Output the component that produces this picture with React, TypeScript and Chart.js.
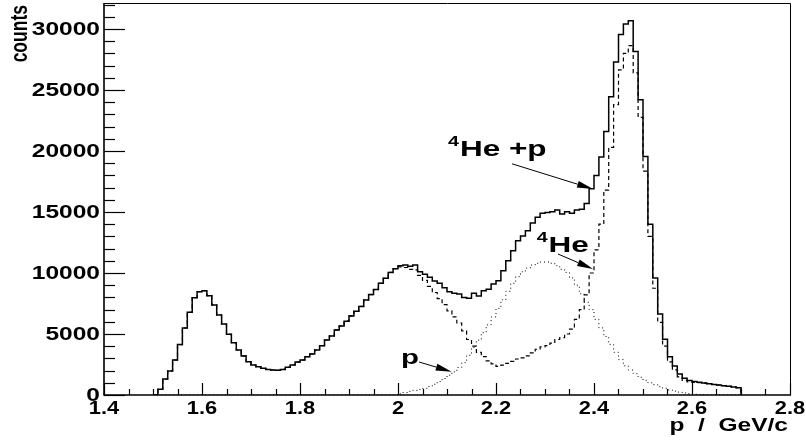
import React, { useEffect, useRef } from 'react';
import { Chart, registerables } from 'chart.js';

Chart.register(...registerables);

// ---- data -------------------------------------------------------------
const BIN_START = 1.5; // GeV/c, low edge of first bin
const BIN_WIDTH = 0.01; // GeV/c

// total counts (4He + p), bins 1.50 ... 2.69
const TOTAL = [
  0, 470, 1310, 1970, 2870, 4130, 5490, 6780, 7980, 8470,
  8550, 8140, 7380, 6560, 5820, 4970, 4290, 3690, 3200, 2730,
  2460, 2320, 2190, 2100, 2050, 2020, 2100, 2270, 2460, 2700,
  2870, 3140, 3360, 3690, 4040, 4510, 4840, 5330, 5650, 6050,
  6480, 6860, 7260, 7790, 8230, 8640, 9150, 9560, 10050, 10350,
  10600, 10650, 10550, 10650, 10100, 9900, 9650, 9350, 9150, 8800,
  8470, 8330, 8280, 8000, 7920, 8330, 8110, 8550, 8660, 9100,
  9370, 10190, 11010, 11830, 12650, 13030, 13470, 14100, 14560, 14890,
  14950, 15030, 15160, 14840, 15030, 14890, 15160, 15220, 15700, 16900,
  18000, 19500, 21600, 24450, 27300, 29550, 30400, 30680, 28150, 24200,
  19550, 14000, 9600, 6640, 4560, 3140, 2380, 1720, 1370, 1180,
  1100, 1040, 980, 930, 870, 820, 760, 710, 660, 600,
];

// 4He component (dashed)
const HE4 = [
  0, 470, 1310, 1970, 2870, 4130, 5490, 6780, 7980, 8470,
  8550, 8140, 7380, 6560, 5820, 4970, 4290, 3690, 3200, 2730,
  2460, 2320, 2190, 2100, 2050, 2020, 2100, 2270, 2460, 2700,
  2870, 3140, 3360, 3690, 4040, 4510, 4840, 5330, 5650, 6050,
  6480, 6860, 7260, 7790, 8230, 8640, 9150, 9560, 10050, 10350,
  10500, 10450, 10300, 10250, 9800, 9400, 8900, 8400, 7900, 7400,
  6900, 6400, 5900, 5250, 4550, 4000, 3500, 3150, 2800, 2550,
  2350, 2450, 2600, 2750, 2950, 3050, 3200, 3450, 3750, 3950,
  4050, 4250, 4550, 4700, 5000, 5400, 6200, 7000, 8200, 10000,
  11900, 14000, 16800, 20300, 23800, 26650, 28000, 28630, 26400, 22750,
  18350, 13000, 8750, 5960, 4010, 2720, 2060, 1480, 1200, 1070,
  1040, 1010, 970, 930, 870, 820, 760, 710, 660, 600,
];

// proton component (dotted)
const PROTON = [
  0, 0, 0, 0, 0, 0, 0, 0, 0, 0,
  0, 0, 0, 0, 0, 0, 0, 0, 0, 0,
  0, 0, 0, 0, 0, 0, 0, 0, 0, 0,
  0, 0, 0, 0, 0, 0, 0, 0, 0, 0,
  0, 0, 0, 0, 0, 0, 0, 0, 0, 0,
  100, 200, 300, 380, 460, 550, 700, 880, 1100, 1350,
  1620, 1900, 2250, 2650, 3250, 3900, 4500, 5100, 5750, 6400,
  7100, 7800, 8500, 9150, 9700, 10100, 10400, 10650, 10800, 10900,
  10900, 10800, 10600, 10300, 10050, 9600, 9000, 8300, 7600, 7000,
  6200, 5500, 4800, 4150, 3500, 2900, 2400, 2050, 1750, 1450,
  1200, 1000, 850, 680, 550, 420, 320, 240, 170, 110,
  60, 30, 10, 0, 0, 0, 0, 0, 0, 0,
];

const X_MIN = 1.4;
const X_MAX = 2.8;
const Y_MIN = 0;
const Y_MAX = 32130;
const X_MAJOR_TICKS = [1.4, 1.6, 1.8, 2.0, 2.2, 2.4, 2.6, 2.8];
const X_TICK_LABELS = ['1.4', '1.6', '1.8', '2', '2.2', '2.4', '2.6', '2.8'];
const X_MINOR_STEP = 0.05;
const Y_MAJOR_TICKS = [0, 5000, 10000, 15000, 20000, 25000, 30000];
const Y_TICK_LABELS = ['0', '5000', '10000', '15000', '20000', '25000', '30000'];
const Y_MINOR_STEP = 1000;
const X_TITLE = 'p  /  GeV/c';
const Y_TITLE = 'counts';

// annotations (label anchor and arrow tail/tip in data coordinates)
const LABELS = [
  { sup: '4', text: 'He +p', x: 2.102, y: 19550, size: 22.5 },
  { sup: '4', text: 'He', x: 2.2831, y: 11745, size: 22.5 },
  { sup: '', text: 'p', x: 2.0061, y: 2541, size: 21 },
];
const ARROWS = [
  { x0: 2.2327, y0: 18950, x1: 2.398, y1: 16884 },
  { x0: 2.3265, y0: 11556, x1: 2.398, y1: 10327 },
  { x0: 2.0429, y0: 2705, x1: 2.1096, y1: 1910 },
];

// ---- helpers ----------------------------------------------------------
function histPoints(values: number[]) {
  const pts: { x: number; y: number }[] = [];
  pts.push({ x: BIN_START, y: 0 });
  values.forEach((v, i) => pts.push({ x: BIN_START + i * BIN_WIDTH, y: v }));
  pts.push({ x: BIN_START + values.length * BIN_WIDTH, y: 0 });
  return pts;
}

const FONT = '"Liberation Sans", Arial, Helvetica, sans-serif';
const SX = 1.4; // horizontal stretch of the original picture

function sText(
  ctx: CanvasRenderingContext2D,
  text: string,
  x: number,
  y: number,
  size: number,
  align: CanvasTextAlign,
  baseline: CanvasTextBaseline,
  sx = SX
) {
  ctx.save();
  ctx.translate(x, y);
  ctx.scale(sx, 1);
  ctx.font = `bold ${size}px ${FONT}`;
  ctx.textAlign = align;
  ctx.textBaseline = baseline;
  ctx.fillStyle = '#000';
  ctx.fillText(text, 0, 0);
  const w = ctx.measureText(text).width * sx;
  ctx.restore();
  return w;
}

const decorPlugin = {
  id: 'rootDecor',
  afterDraw(chart: any) {
    const ctx: CanvasRenderingContext2D = chart.ctx;
    const xs = chart.scales.x;
    const ys = chart.scales.y;
    const { left, right, top, bottom } = chart.chartArea;
    ctx.save();
    ctx.strokeStyle = '#000';
    ctx.lineCap = 'butt';

    // frame
    ctx.lineWidth = 1;
    ctx.beginPath();
    ctx.moveTo(left, top + 0.5);
    ctx.lineTo(right + 0.5, top + 0.5);
    ctx.lineTo(right + 0.5, bottom);
    ctx.stroke();
    ctx.lineWidth = 1.6;
    ctx.beginPath();
    ctx.moveTo(left, top);
    ctx.lineTo(left, bottom);
    ctx.lineTo(right + 1, bottom);
    ctx.stroke();

    // x ticks
    ctx.lineWidth = 1.2;
    for (let v = X_MIN; v <= X_MAX + 1e-9; v += X_MINOR_STEP) {
      const px = Math.round(xs.getPixelForValue(v)) + 0.5;
      const major = X_MAJOR_TICKS.some((t) => Math.abs(t - v) < 1e-6);
      ctx.beginPath();
      ctx.moveTo(px, bottom);
      ctx.lineTo(px, bottom - (major ? 12 : 6));
      ctx.stroke();
    }
    // y ticks
    for (let v = Y_MIN; v <= Y_MAX; v += Y_MINOR_STEP) {
      const py = Math.round(ys.getPixelForValue(v)) + 0.5;
      const major = Y_MAJOR_TICKS.includes(v);
      ctx.beginPath();
      ctx.moveTo(left, py);
      ctx.lineTo(left + (major ? 21 : 11), py);
      ctx.stroke();
    }

    // tick labels
    X_MAJOR_TICKS.forEach((t, i) => {
      sText(ctx, X_TICK_LABELS[i], xs.getPixelForValue(t), bottom + 5, 17.5, 'center', 'top', 1.25);
    });
    Y_MAJOR_TICKS.forEach((t, i) => {
      sText(ctx, Y_TICK_LABELS[i], left - 4, ys.getPixelForValue(t) + 1, 17.5, 'right', 'middle');
    });

    // axis titles
    sText(ctx, X_TITLE, right - 2, bottom + 36, 17.5, 'right', 'alphabetic');
    ctx.save();
    ctx.translate(27, top + 2);
    ctx.rotate(-Math.PI / 2);
    ctx.scale(1, SX);
    ctx.font = `bold 17.5px ${FONT}`;
    ctx.textAlign = 'right';
    ctx.textBaseline = 'alphabetic';
    ctx.fillStyle = '#000';
    ctx.fillText(Y_TITLE, 0, 0);
    ctx.restore();

    // annotation labels
    LABELS.forEach((l) => {
      let px = xs.getPixelForValue(l.x);
      const py = ys.getPixelForValue(l.y);
      if (l.sup) {
        const w = sText(ctx, l.sup, px, py - 10, 14, 'left', 'alphabetic');
        px += w + 1;
      }
      sText(ctx, l.text, px, py, l.size, 'left', 'alphabetic');
    });

    // arrows
    ctx.lineWidth = 1;
    ctx.fillStyle = '#000';
    ARROWS.forEach((a) => {
      const x0 = xs.getPixelForValue(a.x0);
      const y0 = ys.getPixelForValue(a.y0);
      const x1 = xs.getPixelForValue(a.x1);
      const y1 = ys.getPixelForValue(a.y1);
      const ang = Math.atan2(y1 - y0, x1 - x0);
      const hl = 16;
      const hw = 3.5;
      const bx = x1 - hl * Math.cos(ang);
      const by = y1 - hl * Math.sin(ang);
      ctx.beginPath();
      ctx.moveTo(x0, y0);
      ctx.lineTo(bx, by);
      ctx.stroke();
      ctx.beginPath();
      ctx.moveTo(x1, y1);
      ctx.lineTo(bx - hw * Math.sin(ang), by + hw * Math.cos(ang));
      ctx.lineTo(bx + hw * Math.sin(ang), by - hw * Math.cos(ang));
      ctx.closePath();
      ctx.fill();
    });
    ctx.restore();
  },
};

export default function App() {
  const ref = useRef<HTMLCanvasElement | null>(null);
  useEffect(() => {
    document.body.style.margin = '0';
    document.body.style.background = '#fff';
    const canvas = ref.current!;
    const chart = new Chart(canvas, {
      type: 'line',
      data: {
        datasets: [
          {
            label: '4He + p',
            data: histPoints(TOTAL),
            borderColor: '#000',
            borderWidth: 1.5,
            stepped: true,
            pointRadius: 0,
            fill: false,
          },
          {
            label: '4He',
            data: histPoints(HE4),
            borderColor: '#000',
            borderWidth: 1.2,
            borderDash: [4, 3],
            stepped: true,
            pointRadius: 0,
            fill: false,
          },
          {
            label: 'p',
            data: histPoints(PROTON),
            borderColor: '#000',
            borderWidth: 1,
            borderDash: [1, 3],
            stepped: true,
            pointRadius: 0,
            fill: false,
          },
        ],
      },
      options: {
        animation: false,
        responsive: false,
        devicePixelRatio: 1,
        layout: { padding: { left: 104, right: 16, top: 3, bottom: 46 } },
        scales: {
          x: { type: 'linear', min: X_MIN, max: X_MAX, display: false },
          y: { type: 'linear', min: Y_MIN, max: Y_MAX, display: false },
        },
        plugins: { legend: { display: false }, tooltip: { enabled: false } },
        events: [],
      },
      plugins: [decorPlugin],
    } as any);
    return () => chart.destroy();
  }, []);
  return (
    <div style={{ width: 806, height: 441, background: '#fff' }}>
      <canvas ref={ref} width={806} height={441} style={{ display: 'block' }} />
    </div>
  );
}
